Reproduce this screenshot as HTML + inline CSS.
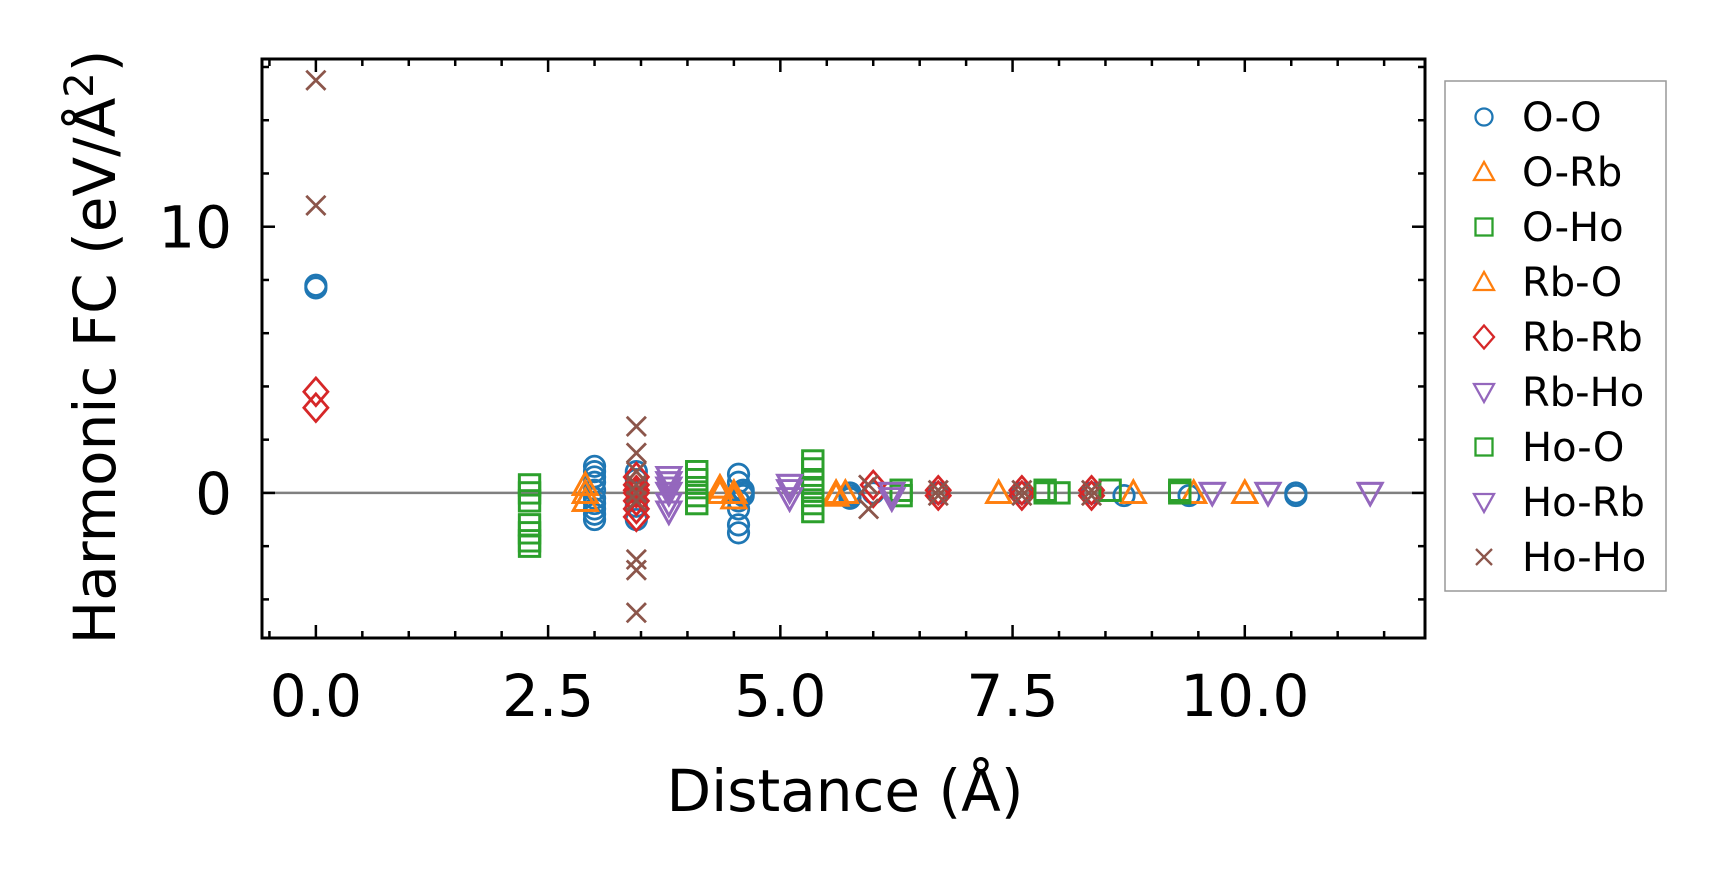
<!DOCTYPE html>
<html><head><meta charset="utf-8"><style>
body{margin:0;background:#fff;width:1727px;height:883px;overflow:hidden}
svg{display:block;font-family:"DejaVu Sans","Liberation Sans",sans-serif}
</style></head><body>
<svg id="chart" width="1727" height="883" viewBox="0 0 1727 883" xmlns="http://www.w3.org/2000/svg">
<g id="plot"></g>
<g id="axes"></g>
<g id="legend"></g>
</svg>
<script>
const seriesNames=["O-O","O-Rb","O-Ho","Rb-O","Rb-Rb","Rb-Ho","Ho-O","Ho-Rb","Ho-Ho"];
const seriesColors=["#1f77b4","#ff7f0e","#2ca02c","#ff7f0e","#d62728","#9467bd","#2ca02c","#9467bd","#8c564b"];
const seriesMarkers=["o","^","s","^","D","v","s","v","x"];
const ooX=[0,0,3.0,3.0,3.0,3.0,3.0,3.0,3.0,3.0,3.0,3.0,3.45,3.45,3.45,3.45,4.55,4.55,4.55,4.55,4.55,4.55,4.6,4.6,4.6,5.75,5.75,5.75,6.0,6.7,7.6,8.35,8.7,9.4,10.55,10.55];
const ooY=[7.7,7.8,1.0,0.8,0.6,0.4,0.1,-0.2,-0.4,-0.6,-0.8,-1.0,0.8,0.5,-0.5,-1.0,0.7,0.4,-0.3,-0.6,-1.2,-1.5,0.1,-0.1,0.0,0.0,-0.1,-0.2,0.0,0.0,0.0,0.0,-0.1,-0.1,-0.1,0.0];
const orbX=[2.9,2.9,2.9,4.35,4.35,4.5,4.5,5.6,5.6,5.7,7.35,8.8,9.45,10.0];
const orbY=[0.3,0.0,-0.3,0.2,0.0,0.0,-0.2,0.0,-0.1,0.0,0.0,0.0,0.0,0.0];
const ohoX=[2.3,2.3,2.3,2.3,2.3,2.3,2.3,4.1,4.1,4.1,4.1,4.1,5.35,5.35,5.35,5.35,5.35,5.35,5.35,6.3,6.3,7.85,7.85,8.0,8.55,9.3,9.3];
const ohoY=[0.3,0.0,-0.3,-1.2,-1.5,-1.8,-2.0,0.8,0.5,0.2,-0.1,-0.4,1.2,0.9,0.5,0.2,-0.1,-0.4,-0.7,0.1,-0.1,0.1,0.0,0.0,0.1,0.1,0.0];
const rbrbX=[0,0,3.45,3.45,3.45,3.45,3.45,3.45,3.45,6.0,6.0,6.7,6.7,7.6,7.6,8.35,8.35];
const rbrbY=[3.8,3.2,0.6,0.3,0.1,0.0,-0.3,-0.6,-0.9,0.3,0.0,0.1,-0.1,0.1,-0.1,0.1,-0.1];
const rbhoX=[3.8,3.8,3.8,3.8,3.8,3.8,5.1,5.1,5.1,6.2,6.2,9.65,10.25,11.35];
const rbhoY=[0.6,0.4,0.2,0.0,-0.4,-0.7,0.3,0.1,-0.2,0.0,-0.2,0.0,0.0,0.0];
const hohoX=[0,0,3.45,3.45,3.45,3.45,3.45,3.45,3.45,3.45,3.45,5.95,5.95,6.7,6.7,7.6,7.6,8.35,8.35];
const hohoY=[15.5,10.8,2.5,1.5,0.8,0.3,0.0,-0.3,-2.5,-2.9,-4.5,0.3,-0.6,0.1,-0.1,0.1,-0.1,0.1,-0.1];
const seriesX=[ooX,orbX,ohoX,orbX,rbrbX,rbhoX,ohoX,rbhoX,hohoX];
const seriesY=[ooY,orbY,ohoY,orbY,rbrbY,rbhoY,ohoY,rbhoY,hohoY];
const xTicks=[0,2.5,5,7.5,10];
const xTickLabels=["0.0","2.5","5.0","7.5","10.0"];
const yTicks=[0,10];
const yTickLabels=["0","10"];

const L=262,R=1425,T=59,B=638;
const xMin=-0.58,xMax=11.94,yMin=-5.45,yMax=16.3;
const sx=v=>L+(v-xMin)/(xMax-xMin)*(R-L);
const sy=v=>B-(v-yMin)/(yMax-yMin)*(B-T);
const NS="http://www.w3.org/2000/svg";
function mk(tag,attrs,parent){const e=document.createElementNS(NS,tag);for(const k in attrs)e.setAttribute(k,attrs[k]);parent.appendChild(e);return e;}
function marker(g,m,cx,cy,c,r,sw){
  let e;
  if(m==="o") e=mk("circle",{cx:cx,cy:cy,r:r*0.85,fill:"none",stroke:c,"stroke-width":sw},g);
  else if(m==="^") e=mk("polygon",{points:`${cx},${cy-r} ${cx-r},${cy+r*0.8} ${cx+r},${cy+r*0.8}`,fill:"none",stroke:c,"stroke-width":sw},g);
  else if(m==="v") e=mk("polygon",{points:`${cx},${cy+r} ${cx-r},${cy-r*0.8} ${cx+r},${cy-r*0.8}`,fill:"none",stroke:c,"stroke-width":sw},g);
  else if(m==="s") e=mk("rect",{x:cx-r*0.85,y:cy-r*0.85,width:r*1.7,height:r*1.7,fill:"none",stroke:c,"stroke-width":sw},g);
  else if(m==="D") e=mk("polygon",{points:`${cx},${cy-r*1.15} ${cx+r},${cy} ${cx},${cy+r*1.15} ${cx-r},${cy}`,fill:"none",stroke:c,"stroke-width":sw},g);
  else e=mk("path",{d:`M${cx-r*0.8},${cy-r*0.8}L${cx+r*0.8},${cy+r*0.8}M${cx-r*0.8},${cy+r*0.8}L${cx+r*0.8},${cy-r*0.8}`,stroke:c,"stroke-width":sw,fill:"none"},g);
  return e;
}
const plot=document.getElementById("plot");
const zl=mk("line",{x1:L,x2:R,y1:sy(0),y2:sy(0),stroke:"#808080","stroke-width":2.5},plot);


seriesNames.forEach((n,i)=>{
  const g=mk("g",{},plot);
  
  
  seriesX[i].forEach((x,j)=>{
    const e=marker(g,seriesMarkers[i],sx(x),sy(seriesY[i][j]),seriesColors[i],12,2.8);
    
    
  });
});
const ax=document.getElementById("axes");
const frame=mk("rect",{x:L,y:T,width:R-L,height:B-T,fill:"none",stroke:"#000","stroke-width":3},ax);


for(let v=-0.5;v<=11.9;v+=0.5){
  const X=sx(v),maj=Math.abs(v/2.5-Math.round(v/2.5))<1e-6,len=maj?13:7;
  mk("line",{x1:X,x2:X,y1:B,y2:B-len,stroke:"#000","stroke-width":2.5},ax);
  mk("line",{x1:X,x2:X,y1:T,y2:T+len,stroke:"#000","stroke-width":2.5},ax);
}
for(let v=-4;v<=16;v+=2){
  const Y=sy(v),maj=v%10===0,len=maj?13:7;
  mk("line",{x1:L,x2:L+len,y1:Y,y2:Y,stroke:"#000","stroke-width":2.5},ax);
  mk("line",{x1:R,x2:R-len,y1:Y,y2:Y,stroke:"#000","stroke-width":2.5},ax);
}
xTicks.forEach((v,i)=>{
  const t=mk("text",{x:sx(v),y:716,"font-size":58,"text-anchor":"middle"},ax);t.textContent=xTickLabels[i];
  
  
});
yTicks.forEach((v,i)=>{
  const t=mk("text",{x:232,y:sy(v)+21,"font-size":58,"text-anchor":"end"},ax);t.textContent=yTickLabels[i];
  
  
});
const xt=mk("text",{x:845,y:811,"font-size":58,"text-anchor":"middle"},ax);xt.textContent="Distance (Å)";


const yt=mk("text",{x:0,y:0,"font-size":58,"text-anchor":"middle",transform:"translate(115,347) rotate(-90)"},ax);
yt.innerHTML='Harmonic FC (eV/Å<tspan dy="-22" font-size="40">2</tspan><tspan dy="22">)</tspan>';


const lg=document.getElementById("legend");


mk("rect",{x:1445,y:81,width:221,height:510,fill:"#fff",stroke:"#999","stroke-width":1.5},lg);
seriesNames.forEach((n,i)=>{
  const y=117+i*55;
  const g=mk("g",{},lg);
  
  
  marker(g,seriesMarkers[i],1484,y,seriesColors[i],10,2.3);
  const t=mk("text",{x:1522,y:y+14,"font-size":40},g);t.textContent=n;
});
</script>
</body></html>
